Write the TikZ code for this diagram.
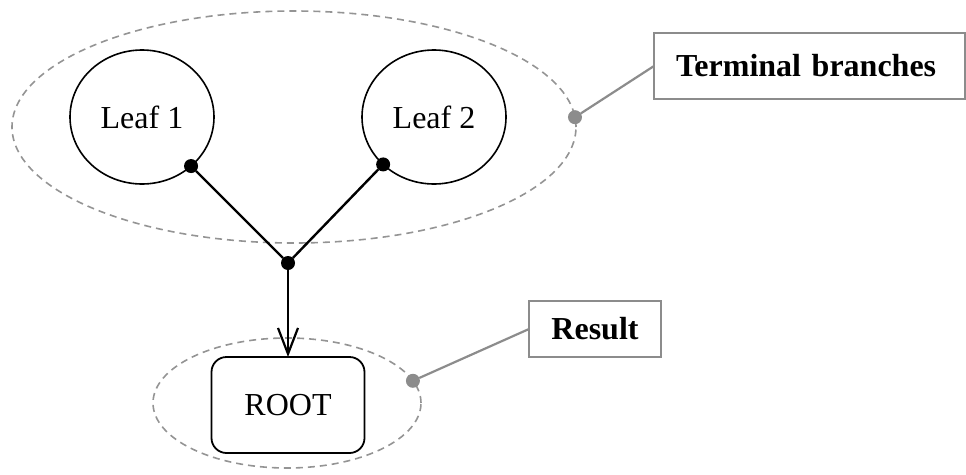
\documentclass[tikz,border=0pt]{standalone}
\usepackage{fontspec}
\setmainfont{Liberation Serif}
\usetikzlibrary{shapes.geometric,arrows.meta}
\begin{document}
\begin{tikzpicture}[x=1pt,y=-1pt,
  every node/.style={font=\fontsize{32}{36}\selectfont, outer sep=0pt},
  group/.style={ellipse, draw=black!42, dashed, dash pattern=on 7pt off 5pt, line width=1.6pt, inner sep=0pt},
  leaf/.style={ellipse, draw, line width=1.6pt, minimum width=144pt, minimum height=134pt, inner sep=0pt},
  rootbox/.style={rectangle, rounded corners=15pt, draw, line width=1.8pt, minimum width=153pt, minimum height=96pt},
  dot/.style={circle, fill=black, minimum size=14pt, inner sep=0pt},
  gdot/.style={circle, fill=black!45, minimum size=14pt, inner sep=0pt},
  callout/.style={rectangle, draw=black!45, line width=2.2pt, font=\fontsize{32}{36}\selectfont\bfseries},
  link/.style={line width=2.4pt},
  glink/.style={draw=black!45, line width=2.2pt}]
\useasboundingbox (0,0) rectangle (966,474);
\node[group, minimum width=564pt, minimum height=232pt] (big) at (294,127) {};
\node[group, minimum width=268pt, minimum height=130pt] (small) at (287,403) {};
\node[leaf] (l1) at (142,117) {Leaf 1};
\node[leaf] (l2) at (434,117) {Leaf 2};
\node[rootbox] (root) at (288,405) {ROOT};
\node[dot] (d1) at (l1.-45) {};
\node[dot] (d2) at (l2.-137) {};
\node[dot] (j) at (288,263) {};
\draw[link] (d1) -- (j);
\draw[link] (d2) -- (j);
\draw[link, -{Straight Barb[length=26pt,width=20pt,line width=2.2pt]}] (j) -- (root.north);
\node[callout, minimum width=311pt, minimum height=66pt, anchor=west, inner xsep=22pt, text width=267pt, align=left] (tb) at (654,66) {Terminal branches};
\node[callout, minimum width=132pt, minimum height=56pt] (res) at (595,329) {Result};
\node[gdot] (g1) at (big.2) {};
\node[gdot] (g2) at (small.10) {};
\draw[glink] (g1) -- (tb.west);
\draw[glink] (g2) -- (res.west);
\end{tikzpicture}
\end{document}
